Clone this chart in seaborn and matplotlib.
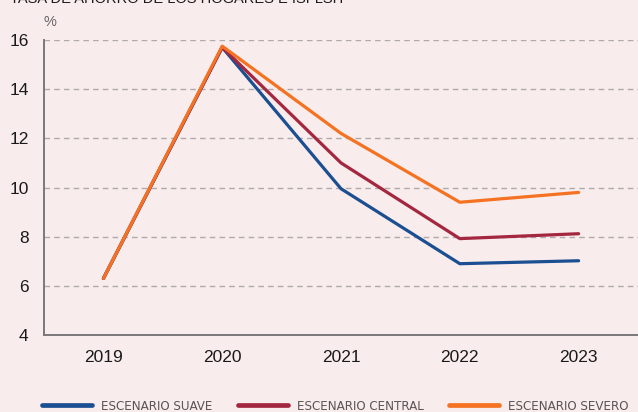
import seaborn as sns
import matplotlib.pyplot as plt
import pandas as pd

years = ['2019', '2020', '2021', '2022', '2023']
suave = [6.3, 15.7, 9.95, 6.9, 7.02]
central = [6.3, 15.7, 11.0, 7.92, 8.12]
severo = [6.3, 15.75, 12.2, 9.4, 9.8]
scenarios = ['ESCENARIO SUAVE', 'ESCENARIO CENTRAL', 'ESCENARIO SEVERO']
colors = ['#1B4F91', '#A3283F', '#F47221']

df = pd.DataFrame({
    'year': years * 3,
    'value': suave + central + severo,
    'scenario': [s for s in scenarios for _ in years],
})

bg = '#F9ECEC'
sns.set_theme(style='white')
plt.rcParams['font.family'] = ['Liberation Sans', 'DejaVu Sans']

fig = plt.figure(figsize=(6.38, 4.12), dpi=100, facecolor=bg)
ax = fig.add_axes([44 / 638, 1 - 335 / 412, 1 - 44 / 638, 295 / 412])
ax.set_facecolor(bg)

sns.lineplot(data=df, x='year', y='value', hue='scenario', palette=colors,
             linewidth=2.3, sort=False, legend=False, ax=ax)

ax.set_ylim(4, 16)
ax.set_xlim(-0.5, 4.5)
ax.set_yticks(range(4, 17, 2))
ax.yaxis.grid(True, linestyle=(0, (4, 3)), color='#B0AAAA', linewidth=1)
ax.xaxis.grid(False)
for s in ['top', 'right']:
    ax.spines[s].set_visible(False)
for s in ['left', 'bottom']:
    ax.spines[s].set_color('#7A7878')
    ax.spines[s].set_linewidth(1.4)
ax.tick_params(axis='y', length=0, pad=11, labelsize=12.5, labelcolor='#1A1A1A')
ax.tick_params(axis='x', length=0, pad=11, labelsize=12.5, labelcolor='#1A1A1A')
ax.set_xlabel('')
ax.set_ylabel('')

fig.text(44 / 638, 1 - 22 / 412, '%', fontsize=10.5, color='#666666', va='center')
fig.text(10 / 638, 1 - 3 / 412, 'TASA DE AHORRO DE LOS HOGARES E ISFLSH', fontsize=10.5,
         color='#1A1A1A', va='baseline')

handles = [plt.Line2D([], [], color=c, linewidth=3.4) for c in colors]
leg = fig.legend(handles, scenarios, loc='center left', bbox_to_anchor=(42 / 638, 6 / 412), ncol=3,
                 frameon=False, fontsize=9.5, handlelength=3.8, columnspacing=1.9,
                 handletextpad=0.7, labelcolor='#5A5555', borderaxespad=0, borderpad=0)
for t in leg.get_texts():
    t.set_family('DejaVu Sans')
    t.set_fontstretch('condensed')

fig.savefig('out.png', dpi=100, facecolor=bg)
